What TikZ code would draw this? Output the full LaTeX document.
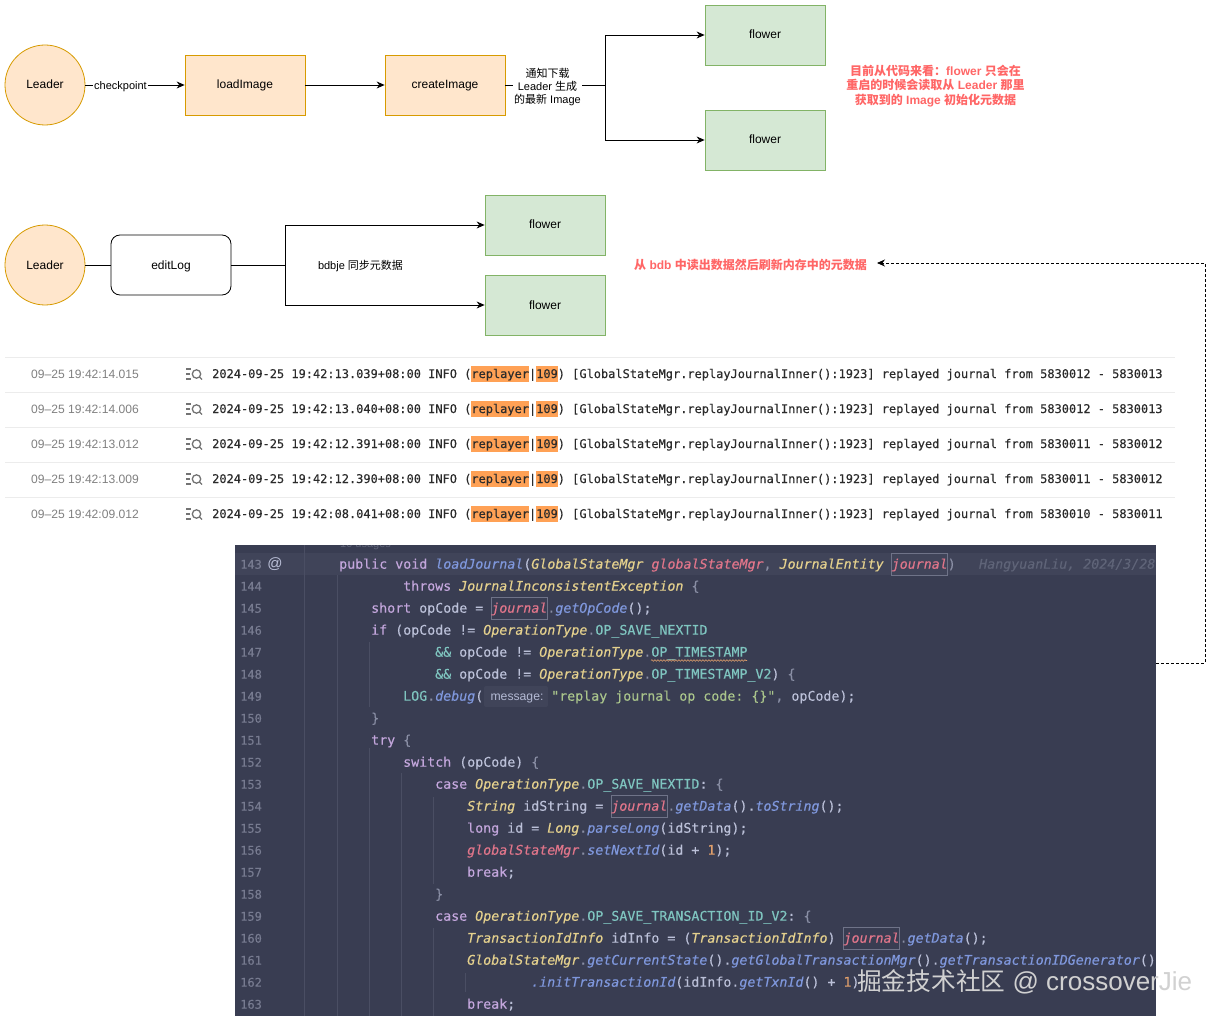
\documentclass[tikz,border=0pt]{standalone}
\usepackage{fontspec}
\setmainfont{Liberation Sans}
\setmonofont{DejaVu Sans Mono}[RawFeature={embolden=0.3}]
\newfontfamily\cjk{Noto Sans CJK SC}
\usetikzlibrary{arrows.meta,decorations.pathmorphing}
\definecolor{orgfill}{HTML}{FFE6CC}
\definecolor{orgline}{HTML}{D79B00}
\definecolor{grnfill}{HTML}{D5E8D4}
\definecolor{grnline}{HTML}{82B366}
\definecolor{redtxt}{HTML}{FF6666}
\definecolor{panel}{HTML}{393D52}
\definecolor{hirow}{HTML}{404459}
\definecolor{guide}{HTML}{4A4E63}
\definecolor{lnum}{HTML}{777B90}
\definecolor{ckw}{HTML}{C3A6DC}
\definecolor{cty}{HTML}{E4D08D}
\definecolor{cpa}{HTML}{E0758A}
\definecolor{cme}{HTML}{7F97DC}
\definecolor{cid}{HTML}{BBC0D8}
\definecolor{cco}{HTML}{7FC5C0}
\definecolor{cst}{HTML}{A9C48B}
\definecolor{cnu}{HTML}{E09F6B}
\definecolor{cbr}{HTML}{8A8FA5}
\definecolor{cdim}{HTML}{5F6478}
\definecolor{boxln}{HTML}{6F7388}
\definecolor{hilite}{HTML}{FFA155}
\definecolor{logtxt}{HTML}{2B2B2B}
\definecolor{timetxt}{HTML}{808080}
\definecolor{sepln}{HTML}{ECECEC}
\newcommand\zh[1]{{\cjk #1}}
\newcommand\Ckw[1]{\textcolor{ckw}{#1}}
\newcommand\Cty[1]{\textcolor{cty}{\itshape #1}}
\newcommand\Cpa[1]{\textcolor{cpa}{\itshape #1}}
\newcommand\Cme[1]{\textcolor{cme}{\itshape #1}}
\newcommand\Cco[1]{\textcolor{cco}{#1}}
\newcommand\Cst[1]{\textcolor{cst}{#1}}
\newcommand\Cnu[1]{\textcolor{cnu}{#1}}
\newcommand\Cbr[1]{\textcolor{cbr}{#1}}
\newcommand\Cline[3]{\node[codetxt] (cl#1) at ({339+8*#2},{568.7+22*(#1-143)}) {#3};}
\newcommand\Jbox[2]{\draw[jrnl] ({#2},{553+22*(#1-143)}) rectangle ++(56,22);}
\newcommand\Logrow[5]{%
  \fill[hilite] (471,#1-8) rectangle (529,#1+8);
  \fill[hilite] (536,#1-8) rectangle (558,#1+8);
  \node[timelbl] (time#1) at (31,#1) {#2};
  \draw[iconln] (186,#1-5) -- (191,#1-5) (186,#1) -- (190,#1) (186,#1+5) -- (191,#1+5);
  \draw[iconln] (196.5,#1) circle (4.2);
  \draw[iconln] (199.5,#1+3) -- (202,#1+5.5);
  \node[logtxtn] (log#1) at (212,#1+4) {2024-09-25 #3+08:00 INFO (replayer|109) [GlobalStateMgr.replayJournalInner():1923] replayed journal from #4 - #5};
}
\tikzset{
  shapetxt/.style={text height=9pt,text depth=1pt,font=\fontsize{12}{14}\selectfont},
  leadernode/.style={circle,draw=orgline,fill=orgfill,line width=.8pt,minimum size=80pt,inner sep=0pt,shapetxt},
  orgbox/.style={rectangle,draw=orgline,fill=orgfill,line width=.8pt,minimum width=120pt,minimum height=60pt,inner sep=0pt,shapetxt},
  grnbox/.style={rectangle,draw=grnline,fill=grnfill,line width=.8pt,minimum width=120pt,minimum height=60pt,inner sep=0pt,shapetxt},
  editbox/.style={rectangle,rounded corners=9pt,draw=black,fill=white,line width=.8pt,minimum width=120pt,minimum height=60pt,inner sep=0pt,shapetxt},
  conn/.style={draw=black,line width=.8pt,-{Stealth[length=8pt,width=7pt]}},
  dashconn/.style={draw=black,line width=.8pt,dash pattern=on 3pt off 2pt,-{Stealth[length=8pt,width=7pt]}},
  edgelbl/.style={fill=white,inner sep=1pt,align=center,font=\fontsize{11}{13.3}\selectfont},
  plainlbl/.style={inner sep=0pt,align=center,font=\fontsize{11}{13}\selectfont},
  redlbl/.style={inner sep=0pt,align=center,text=redtxt,font=\fontsize{12}{14.5}\selectfont\bfseries},
  timelbl/.style={anchor=west,inner sep=0pt,text=timetxt,font=\fontsize{12.1}{15}\selectfont},
  logtxtn/.style={anchor=base west,inner sep=0pt,text=logtxt,font=\fontsize{11.96}{14}\selectfont\ttfamily\frenchspacing},
  iconln/.style={draw=timetxt!90!black,line width=1.3pt},
  codetxt/.style={anchor=base west,inner sep=0pt,text=cid,font=\fontsize{13.3}{16}\selectfont\ttfamily\frenchspacing},
  lnumtxt/.style={anchor=base west,inner sep=0pt,text=lnum,font=\fontsize{12}{14}\selectfont\ttfamily},
  jrnl/.style={draw=boxln,line width=.6pt},
  guideln/.style={draw=guide,line width=.7pt},
}
\begin{document}
\begin{tikzpicture}[x=1pt,y=-1pt]
\useasboundingbox (0,0) rectangle (1219,1022);
\fill[white] (0,0) rectangle (1219,1022);
% --- top diagram
\node[leadernode] (leaderA) at (45,85) {Leader};
\node[orgbox] (load) at (245,85) {loadImage};
\node[orgbox] (create) at (445,85) {createImage};
\node[grnbox] (flowerA) at (765,35) {flower};
\node[grnbox] (flowerB) at (765,140) {flower};
\coordinate (jA) at (605,85);
\draw[conn] (leaderA) -- (load);
\draw[conn] (load) -- (create);
\draw[conn] (create) -- (jA) |- (flowerA);
\draw[conn] (jA) |- (flowerB);
\node[edgelbl] (ckpt) at (120.5,87) {checkpoint};
\node[edgelbl] (notice) at (547.5,87) {\zh{通知下载}\\Leader \zh{生成}\\\zh{的最新} Image};
\node[redlbl] (noteA) at (935.5,86) {\zh{目前从代码来看：}flower \zh{只会在}\\\zh{重启的时候会读取从} Leader \zh{那里}\\\zh{获取到的} Image \zh{初始化元数据}};
% --- second diagram
\node[leadernode] (leaderB) at (45,265) {Leader};
\node[editbox] (edit) at (171,265) {editLog};
\node[grnbox] (flowerC) at (545,225) {flower};
\node[grnbox] (flowerD) at (545,305) {flower};
\coordinate (jB) at (285,265);
\draw[draw=black,line width=.8pt] (leaderB) -- (edit);
\draw[conn] (edit) -- (jB) |- (flowerC);
\draw[conn] (jB) |- (flowerD);
\node[plainlbl] (bdb) at (360.5,266) {bdbje \zh{同步元数据}};
\node[redlbl] (noteB) at (750.5,265) {\zh{从} bdb \zh{中读出数据然后刷新内存中的元数据}};
% --- log rows
\foreach \yy in {357.5,392.5,427.5,462.5,497.5} \draw[sepln,line width=.8pt] (5,\yy) -- (1175,\yy);
\Logrow{374}{09–25 19:42:14.015}{19:42:13.039}{5830012}{5830013}
\Logrow{409}{09–25 19:42:14.006}{19:42:13.040}{5830012}{5830013}
\Logrow{444}{09–25 19:42:13.012}{19:42:12.391}{5830011}{5830012}
\Logrow{479}{09–25 19:42:13.009}{19:42:12.390}{5830011}{5830012}
\Logrow{514}{09–25 19:42:09.012}{19:42:08.041}{5830010}{5830011}
% --- code panel
\node[rectangle,fill=panel,minimum width=921pt,minimum height=471pt,inner sep=0pt] (code) at (695.5,780.5) {};
\begin{scope}
\clip (235,545) rectangle (1156,1016);
\node[anchor=base west,inner sep=0pt,text=cdim,font=\fontsize{11}{13}\selectfont] (usages) at (340,547.5) {10 usages};
\fill[hirow] (235,553) rectangle (1156,575);
\draw[guideln] (304.7,545) -- (304.7,1016);
\draw[guideln] (337.5,575) -- (337.5,1016);
\draw[guideln] (369.5,642) -- (369.5,707) (369.5,748) -- (369.5,1016);
\draw[guideln] (401.5,773) -- (401.5,1016);
\draw[guideln] (433.5,797) -- (433.5,884) (433.5,928) -- (433.5,1016);
\draw[guideln] (465.5,973) -- (465.5,992);
\foreach \n in {143,...,163}
  \node[lnumtxt] (ln\n) at (240,{568.7+22*(\n-143)}) {\n};
\node[anchor=center,inner sep=0pt,text=cid,font=\fontsize{15}{16}\selectfont] (atsign) at (275,564) {@};
\Jbox{143}{891}
\Jbox{145}{491}
\Jbox{154}{611}
\Jbox{160}{843}
\Cline{143}{0}{\Ckw{public} \Ckw{void} \Cme{loadJournal}(\Cty{GlobalStateMgr} \Cpa{globalStateMgr}\Cbr{,} \Cty{JournalEntity} \Cpa{journal}\Cbr{)}}
\node[codetxt,text=cdim] (blame) at (979,568.7) {\itshape HangyuanLiu, 2024/3/28};
\Cline{144}{8}{\Ckw{throws} \Cty{JournalInconsistentException} \Cbr{\{}}
\Cline{145}{4}{\Ckw{short} opCode = \Cpa{journal}\Cbr{.}\Cme{getOpCode}();}
\Cline{146}{4}{\Ckw{if} (opCode != \Cty{OperationType}\Cbr{.}\Cco{OP\_SAVE\_NEXTID}}
\Cline{147}{12}{\Cco{\&\&} opCode != \Cty{OperationType}\Cbr{.}\Cco{OP\_TIMESTAMP}}
\Cline{148}{12}{\Cco{\&\&} opCode != \Cty{OperationType}\Cbr{.}\Cco{OP\_TIMESTAMP\_V2}) \Cbr{\{}}
\draw[draw=cnu,line width=.6pt,decorate,decoration={snake,amplitude=.8pt,segment length=3pt}] (651,660.5) -- (747,660.5);
\Cline{149}{8}{\Cco{LOG}\Cbr{.}\Cme{debug}(}
\fill[hirow,rounded corners=2pt] (484,686) rectangle (548,707);
\node[anchor=base,inner sep=0pt,text=cid!110,font=\fontsize{12.2}{13}\selectfont] (hint) at (517,700.5) {message:};
\node[codetxt] (cl149b) at (551,700.7) {\Cst{"replay journal op code: \{\}"}\Cbr{,} opCode);};
\Cline{150}{4}{\Cbr{\}}}
\Cline{151}{4}{\Ckw{try} \Cbr{\{}}
\Cline{152}{8}{\Ckw{switch} (opCode) \Cbr{\{}}
\Cline{153}{12}{\Ckw{case} \Cty{OperationType}\Cbr{.}\Cco{OP\_SAVE\_NEXTID}: \Cbr{\{}}
\Cline{154}{16}{\Cty{String} idString = \Cpa{journal}\Cbr{.}\Cme{getData}().\Cme{toString}();}
\Cline{155}{16}{\Ckw{long} id = \Cty{Long}\Cbr{.}\Cme{parseLong}(idString);}
\Cline{156}{16}{\Cpa{globalStateMgr}\Cbr{.}\Cme{setNextId}(id + \Cnu{1});}
\Cline{157}{16}{\Ckw{break};}
\Cline{158}{12}{\Cbr{\}}}
\Cline{159}{12}{\Ckw{case} \Cty{OperationType}\Cbr{.}\Cco{OP\_SAVE\_TRANSACTION\_ID\_V2}: \Cbr{\{}}
\Cline{160}{16}{\Cty{TransactionIdInfo} idInfo = (\Cty{TransactionIdInfo}) \Cpa{journal}\Cbr{.}\Cme{getData}();}
\Cline{161}{16}{\Cty{GlobalStateMgr}\Cbr{.}\Cme{getCurrentState}().\Cme{getGlobalTransactionMgr}().\Cme{getTransactionIDGenerator}()}
\Cline{162}{24}{\Cme{.initTransactionId}(idInfo.\Cme{getTxnId}() + \Cnu{1})}
\Cline{163}{16}{\Ckw{break};}
\end{scope}
% --- dashed connector
\coordinate (dA) at (1156,663);
\coordinate (dB) at (1205,663);
\coordinate (dC) at (1205,263);
\coordinate (dD) at (877,263);
\draw[dashconn] (dA) -- (dB) -- (dC) -- (dD);
% --- watermark
\node[anchor=base west,inner sep=0pt,text=white!82!black,font=\fontsize{26}{28}\selectfont] (mark) at (857,990) {{\fontsize{24.7}{28}\selectfont\zh{掘金技术社区}} @ crossoverJie};
\end{tikzpicture}
\end{document}
